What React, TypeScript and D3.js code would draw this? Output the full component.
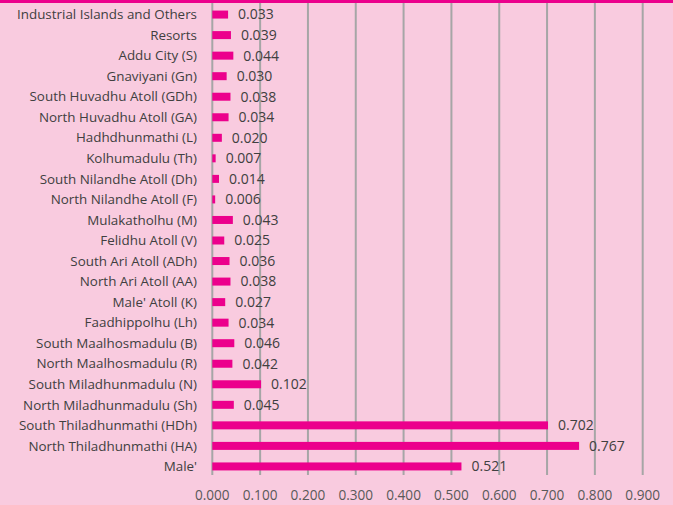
import React, { useRef, useEffect } from "react";
import * as d3 from "d3";

// categories top to bottom, as shown
const categories = [
  "Industrial Islands and Others",
  "Resorts",
  "Addu City (S)",
  "Gnaviyani (Gn)",
  "South Huvadhu Atoll (GDh)",
  "North Huvadhu Atoll (GA)",
  "Hadhdhunmathi (L)",
  "Kolhumadulu (Th)",
  "South Nilandhe Atoll (Dh)",
  "North Nilandhe Atoll (F)",
  "Mulakatholhu (M)",
  "Felidhu Atoll (V)",
  "South Ari Atoll (ADh)",
  "North Ari Atoll (AA)",
  "Male' Atoll (K)",
  "Faadhippolhu (Lh)",
  "South Maalhosmadulu (B)",
  "North Maalhosmadulu (R)",
  "South Miladhunmadulu (N)",
  "North Miladhunmadulu (Sh)",
  "South Thiladhunmathi (HDh)",
  "North Thiladhunmathi (HA)",
  "Male'",
];

const values = [
  0.033, 0.039, 0.044, 0.03, 0.038, 0.034, 0.02, 0.007, 0.014, 0.006, 0.043,
  0.025, 0.036, 0.038, 0.027, 0.034, 0.046, 0.042, 0.102, 0.045, 0.702, 0.767,
  0.521,
];

const xTicks = [0, 0.1, 0.2, 0.3, 0.4, 0.5, 0.6, 0.7, 0.8, 0.9];

const PINK = "#f9cbdf";
const MAGENTA = "#ec008c";
const FONT = "Open Sans, sans-serif";

export default function App() {
  const svgRef = useRef<SVGSVGElement>(null);

  useEffect(() => {
    document.body.style.margin = "0";
    const svg = d3.select(svgRef.current);
    svg.selectAll("*").remove();

    const width = 673;
    const height = 505;
    const rows = categories.map((c, i) => ({ cat: c, v: values[i] }));

    svg.append("rect").attr("width", width).attr("height", height).attr("fill", PINK);
    svg.append("rect").attr("width", width).attr("height", 3).attr("fill", MAGENTA);

    const x = d3.scaleLinear().domain([0, 0.9]).range([212.3, 642.7]);
    const y = d3.scaleBand().domain(categories).range([4.5, 476.5]).paddingInner(0.6).paddingOuter(0.29);

    // gridlines
    svg.append("g")
      .selectAll("line")
      .data(xTicks)
      .join("line")
      .attr("x1", (d) => x(d))
      .attr("x2", (d) => x(d))
      .attr("y1", 3)
      .attr("y2", 475)
      .attr("stroke", "#a6a6a6")
      .attr("stroke-width", 2);

    // x tick labels
    svg.append("g")
      .selectAll("text")
      .data(xTicks)
      .join("text")
      .attr("x", (d) => x(d))
      .attr("y", 495)
      .attr("dy", "0.35em")
      .attr("text-anchor", "middle")
      .attr("font-family", FONT)
      .attr("font-size", 13.6)
      .attr("fill", "#595959")
      .text((d) => d3.format(".3f")(d));

    const bh = 8;
    const cy = (d: string) => (y(d) as number) + y.bandwidth() / 2;

    svg.append("g")
      .selectAll("rect")
      .data(rows)
      .join("rect")
      .attr("x", x(0))
      .attr("y", (d) => cy(d.cat) - bh / 2)
      .attr("width", (d) => x(d.v) - x(0))
      .attr("height", bh)
      .attr("fill", MAGENTA);

    // category labels
    svg.append("g")
      .selectAll("text")
      .data(rows)
      .join("text")
      .attr("x", 197)
      .attr("y", (d) => cy(d.cat))
      .attr("dy", "0.35em")
      .attr("text-anchor", "end")
      .attr("font-family", FONT)
      .attr("font-size", 13.4)
      .attr("fill", "#404040")
      .text((d) => d.cat);

    // value labels
    svg.append("g")
      .selectAll("text")
      .data(rows)
      .join("text")
      .attr("x", (d) => x(d.v) + 10)
      .attr("y", (d) => cy(d.cat))
      .attr("dy", "0.35em")
      .attr("font-family", FONT)
      .attr("font-size", 14)
      .attr("fill", "#404040")
      .text((d) => d3.format(".3f")(d.v));
  }, []);

  return <svg ref={svgRef} width={673} height={505} style={{ display: "block" }} />;
}
